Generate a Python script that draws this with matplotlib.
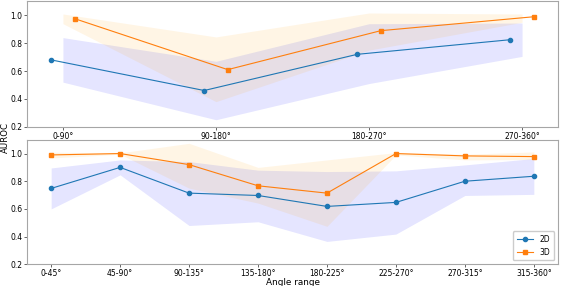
import matplotlib.pyplot as plt
import numpy as np

# top panel: 90 degree bins
labels_90 = ["0-90°", "90-180°", "180-270°", "270-360°"]
auc2d_90 = [0.68, 0.46, 0.72, 0.825]
auc3d_90 = [0.976, 0.61, 0.89, 0.99]
lo2d_90 = [0.52, 0.25, 0.51, 0.705]
hi2d_90 = [0.84, 0.67, 0.94, 0.945]
lo3d_90 = [0.94, 0.38, 0.75, 0.95]
hi3d_90 = [1.01, 0.845, 1.017, 1.01]

# bottom panel: 45 degree bins
labels_45 = ["0-45°", "45-90°", "90-135°", "135-180°",
             "180-225°", "225-270°", "270-315°", "315-360°"]
auc2d_45 = [0.748, 0.90, 0.714, 0.697, 0.618, 0.647, 0.80, 0.836]
auc3d_45 = [0.99, 1.0, 0.92, 0.767, 0.714, 1.0, 0.983, 0.978]
lo2d_45 = [0.60, 0.846, 0.48, 0.507, 0.365, 0.418, 0.697, 0.705]
hi2d_45 = [0.896, 0.954, 0.942, 0.88, 0.87, 0.875, 0.918, 0.964]
lo3d_45 = [0.968, 0.995, 0.75, 0.642, 0.474, 0.99, 0.954, 0.957]
hi3d_45 = [1.01, 1.005, 1.074, 0.90, 0.954, 1.007, 0.995, 1.012]

TICK_FS = 5.5
LABEL_FS = 6.4
SPINE = "0.65"


def style(ax):
    for s in ax.spines.values():
        s.set_color(SPINE)
        s.set_linewidth(0.8)
    ax.tick_params(labelsize=TICK_FS, length=2, width=0.6, color="0.3", pad=1.5)
    ax.set_ylim(0.2, 1.1)
    ax.set_yticks([0.2, 0.4, 0.6, 0.8, 1.0])


fig = plt.figure(figsize=(5.65, 2.86), dpi=100)
ax1 = fig.add_axes([0.0478, 0.557, 0.9398, 0.438])
ax2 = fig.add_axes([0.0478, 0.076, 0.9398, 0.4355])

x1 = np.arange(len(labels_90))
ax1.fill_between(x1, lo2d_90, hi2d_90, color="blue", alpha=0.1, linewidth=0)
ax1.fill_between(x1, lo3d_90, hi3d_90, color="orange", alpha=0.1, linewidth=0)
ax1.plot(x1 - 0.077, auc2d_90, "-o", color="tab:blue", lw=0.8, ms=3)
ax1.plot(x1 + 0.077, auc3d_90, "-s", color="tab:orange", lw=0.8, ms=3)
ax1.set_xticks(x1)
ax1.set_xticklabels(labels_90)
style(ax1)

x2 = np.arange(len(labels_45))
ax2.fill_between(x2, lo2d_45, hi2d_45, color="blue", alpha=0.1, linewidth=0)
ax2.fill_between(x2, lo3d_45, hi3d_45, color="orange", alpha=0.1, linewidth=0)
ax2.plot(x2, auc2d_45, "-o", color="tab:blue", lw=0.8, ms=3, label="2D")
ax2.plot(x2, auc3d_45, "-s", color="tab:orange", lw=0.8, ms=3, label="3D")
ax2.set_xticks(x2)
ax2.set_xticklabels(labels_45)
ax2.set_xlabel("Angle range", fontsize=LABEL_FS, labelpad=0)
style(ax2)
ax2.legend(loc="lower right", fontsize=TICK_FS, handlelength=2.2,
           borderpad=0.5, labelspacing=0.5, framealpha=1, edgecolor="0.8")

fig.text(0.0095, 0.52, "AUROC", rotation=90, va="center", ha="center", fontsize=6.2)

fig.savefig("out.png", dpi=100)
